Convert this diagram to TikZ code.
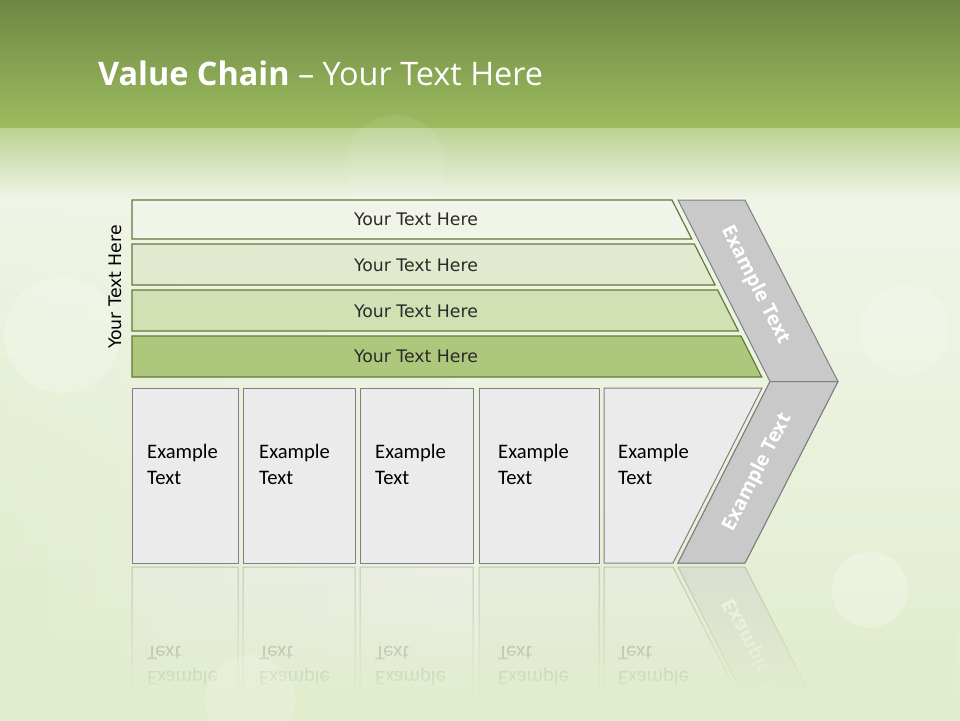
\documentclass[tikz,border=0pt]{standalone}
\usepackage{fontspec}
\setmainfont{DejaVu Sans}
\newfontfamily\titlefont{Open Sans}
\newfontfamily\calfont{Carlito}
\usetikzlibrary{fadings}
\definecolor{bandtop}{HTML}{6E8744}
\definecolor{bandbot}{HTML}{9DBC5F}
\definecolor{bandmid}{HTML}{BCD293}
\definecolor{bgA}{HTML}{F0F5E8}
\definecolor{bgB}{HTML}{E2EDCE}
\definecolor{barA}{HTML}{F1F5E9}
\definecolor{barB}{HTML}{E1EACE}
\definecolor{barC}{HTML}{D1E1B3}
\definecolor{barD}{HTML}{ADC87C}
\definecolor{barline}{HTML}{5F7A3A}
\definecolor{boxfill}{HTML}{EBEBEB}
\definecolor{boxline}{HTML}{808080}
\definecolor{chevfill}{HTML}{C9C9C9}
\definecolor{chevline}{HTML}{7F7F7F}
\definecolor{txt}{HTML}{2A2A2A}
\tikzfading[name=reflfade, top color=transparent!100, bottom color=transparent!0]
\newcommand\boxrow[1]{%
  \draw[vbox] (132,388) rectangle (238,563);
  \draw[vbox] (243,388) rectangle (355,563);
  \draw[vbox] (360,388) rectangle (473,563);
  \draw[vbox] (479,388) rectangle (599,563);
  \draw[vbox] (604,388) -- (762,388) -- (673,563) -- (604,563) -- cycle;
  \node[boxtext] (#1b1) at (147,444) {Example\\Text};
  \node[boxtext] (#1b2) at (259,444) {Example\\Text};
  \node[boxtext] (#1b3) at (375,444) {Example\\Text};
  \node[boxtext] (#1b4) at (498,444) {Example\\Text};
  \node[boxtext] (#1b5) at (618,444) {Example\\Text};
  \draw[chev] (770,381.5) -- (838,381.5) -- (745,563) -- (678,563) -- cycle;
  \node[chevtext, rotate=63] (#1c2) at (757.5,472.5) {Example Text};
}
\begin{document}
\begin{tikzpicture}[x=1pt,y=-1pt,
  bar/.style={draw=barline, line width=1.2pt},
  bartext/.style={font=\fontsize{17.3}{20}\selectfont, text=txt, inner sep=0},
  vbox/.style={draw=boxline, fill=boxfill, line width=1pt},
  boxtext/.style={font=\calfont\fontsize{20.6}{25.5}\selectfont, text=black, align=left, anchor=north west, inner sep=0},
  chev/.style={draw=chevline, fill=chevfill, line width=1pt},
  chevtext/.style={font=\titlefont\bfseries\fontsize{19.5}{22}\selectfont, text=white, inner sep=0}]
\useasboundingbox (0,0) rectangle (960,720);
% background
\fill[bgA] (0,0) rectangle (960,720);
\shade[top color=bgA, bottom color=bgB] (0,190) rectangle (960,720);
\shade[left color=bgB, right color=bgA, path fading=reflfade] (0,190) rectangle (480,720);
\shade[top color=bandtop, bottom color=bandbot] (0,0) rectangle (960,128);
\shade[top color=bandmid, bottom color=bgA] (0,128) rectangle (960,200);
\fill[white, opacity=.22] (62,335) circle (58);
\fill[white, opacity=.08] (395,165) circle (50);
\fill[white, opacity=.18] (905,330) circle (45);
% title
\node[anchor=base west, inner sep=0, text=white, font=\titlefont\fontsize{32.4}{38}\selectfont] (title) at (98,85) {{\bfseries Value Chain} – Your Text Here};
% left label
\node[bartext, rotate=90, text=black] (side) at (115,287) {Your Text Here};
% bars
\draw[bar, fill=barA] (132,200) -- (672,200) -- (691.8,239) -- (132,239) -- cycle;
\draw[bar, fill=barB] (132,244) -- (694.3,244) -- (715.1,285) -- (132,285) -- cycle;
\draw[bar, fill=barC] (132,290) -- (717.6,290) -- (738.4,331) -- (132,331) -- cycle;
\draw[bar, fill=barD] (132,336) -- (741,336) -- (761.7,377) -- (132,377) -- cycle;
\node[bartext] (t1) at (416,219) {Your Text Here};
\node[bartext] (t2) at (416,265) {Your Text Here};
\node[bartext] (t3) at (416,311) {Your Text Here};
\node[bartext] (t4) at (416,356) {Your Text Here};
% chevron
\draw[chev] (678,200) -- (745,200) -- (838,381.5) -- (745,563) -- (678,563) -- (770,381.5) -- cycle;
\node[chevtext, rotate=-63] (c1) at (755,285) {Example Text};
% boxes
\boxrow{}
% reflection
\begin{scope}
\clip (0,565) rectangle (960,700);
\begin{scope}[transparency group, opacity=.4, shift={(0,1130)}, yscale=-1, transform shape]
\boxrow{r}
\end{scope}
\end{scope}
\fill[bgB, path fading=reflfade] (0,566) rectangle (960,700);
\fill[bgB] (0,699) rectangle (960,720);
\fill[white, opacity=.25] (870,590) circle (38);
\fill[white, opacity=.15] (250,700) circle (45);
\end{tikzpicture}
\end{document}
